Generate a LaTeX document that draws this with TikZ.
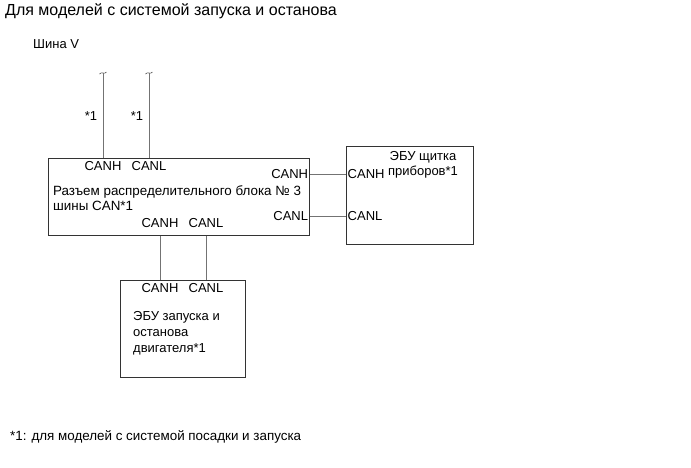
\documentclass[tikz,border=0pt]{standalone}
\usepackage{fontspec}
\setmainfont{Liberation Sans}
\usetikzlibrary{positioning}

\begin{document}
\begin{tikzpicture}[
				x=1pt, y=-1pt,
				box/.style={rectangle, draw=black!80, line width=0.8pt, anchor=north west, inner sep=0pt},
				lbl/.style={font=\fontsize{13}{15}\selectfont, inner sep=2pt},
				wire/.style={draw=black!55, line width=0.7pt},
				brk/.style={draw=black!70, line width=0.6pt}
				]
				\useasboundingbox (0,0) rectangle (691,467);
				% titles
				\node[anchor=west, font=\fontsize{16}{18}\selectfont, inner sep=0pt] (title) at (5,11)
				{Для моделей с системой запуска и останова};
				\node[lbl, anchor=west, inner sep=0pt] (bus) at (33,44) {Шина V};
				% boxes
				\node[box, minimum width=261, minimum height=77] (raz) at (48,158) {};
				\node[box, minimum width=127, minimum height=98] (pribor) at (346,146) {};
				\node[box, minimum width=125, minimum height=97] (dvig) at (120,280) {};
				% labels of the junction block
				\node[lbl] (rzTH) at (103,166) {CANH};
				\node[lbl] (rzTL) at (149,166) {CANL};
				\node[lbl, anchor=east, inner sep=1.5pt] (rzRH) at (raz.east |- 0,174) {CANH};
				\node[lbl, anchor=east, inner sep=1.5pt] (rzRL) at (raz.east |- 0,216) {CANL};
				\node[lbl, anchor=north west, align=left, inner sep=0pt, font=\fontsize{13.4}{15}\selectfont] (rzTxt) at (53,185)
				{Разъем распределительного блока № 3\\шины CAN*1};
				\node[lbl] (rzBH) at (160,223) {CANH};
				\node[lbl] (rzBL) at (206,223) {CANL};
				% labels of the meter ECU
				\node[lbl, anchor=west, inner sep=1.5pt] (prH) at (pribor.west |- 0,174) {CANH};
				\node[lbl, anchor=west, inner sep=1.5pt] (prL) at (pribor.west |- 0,216) {CANL};
				\node[lbl, align=center, anchor=north, inner sep=0pt] (prTxt) at (423,151)
				{ЭБУ щитка\\приборов*1};
				% labels of the start/stop ECU
				\node[lbl] (dvH) at (160,288) {CANH};
				\node[lbl] (dvL) at (206,288) {CANL};
				\node[lbl, anchor=north west, align=left, inner sep=0pt, font=\fontsize{13}{16}\selectfont] (dvTxt) at (133,311)
				{ЭБУ запуска и\\останова\\двигателя*1};
				% bus V ends
				\coordinate (endH) at (103,73);
				\coordinate (endL) at (149,73);
				\foreach \c in {endH,endL}
				\draw[brk] ([xshift=-3.5pt,yshift=-1pt]\c) .. controls ([xshift=-1pt,yshift=2pt]\c) and ([xshift=1pt,yshift=-2pt]\c) .. ([xshift=3.5pt,yshift=1pt]\c);
				\node[lbl] (starH) at (91,116) {*1};
				\node[lbl] (starL) at (137,116) {*1};
				% wires
				\draw[wire] (endH) -- (endH |- raz.north);
				\draw[wire] (endL) -- (endL |- raz.north);
				\draw[wire] (rzRH.east) -- (prH.west);
				\draw[wire] (rzRL.east) -- (prL.west);
				\draw[wire] (rzBH |- raz.south) -- (dvH |- dvig.north);
				\draw[wire] (rzBL |- raz.south) -- (dvL |- dvig.north);
				% footnote
				\node[lbl, anchor=west, inner sep=0pt, font=\fontsize{13.4}{15}\selectfont] (note) at (10,437)
				{*1: для моделей с системой посадки и запуска};
			\end{tikzpicture}
\end{document}
